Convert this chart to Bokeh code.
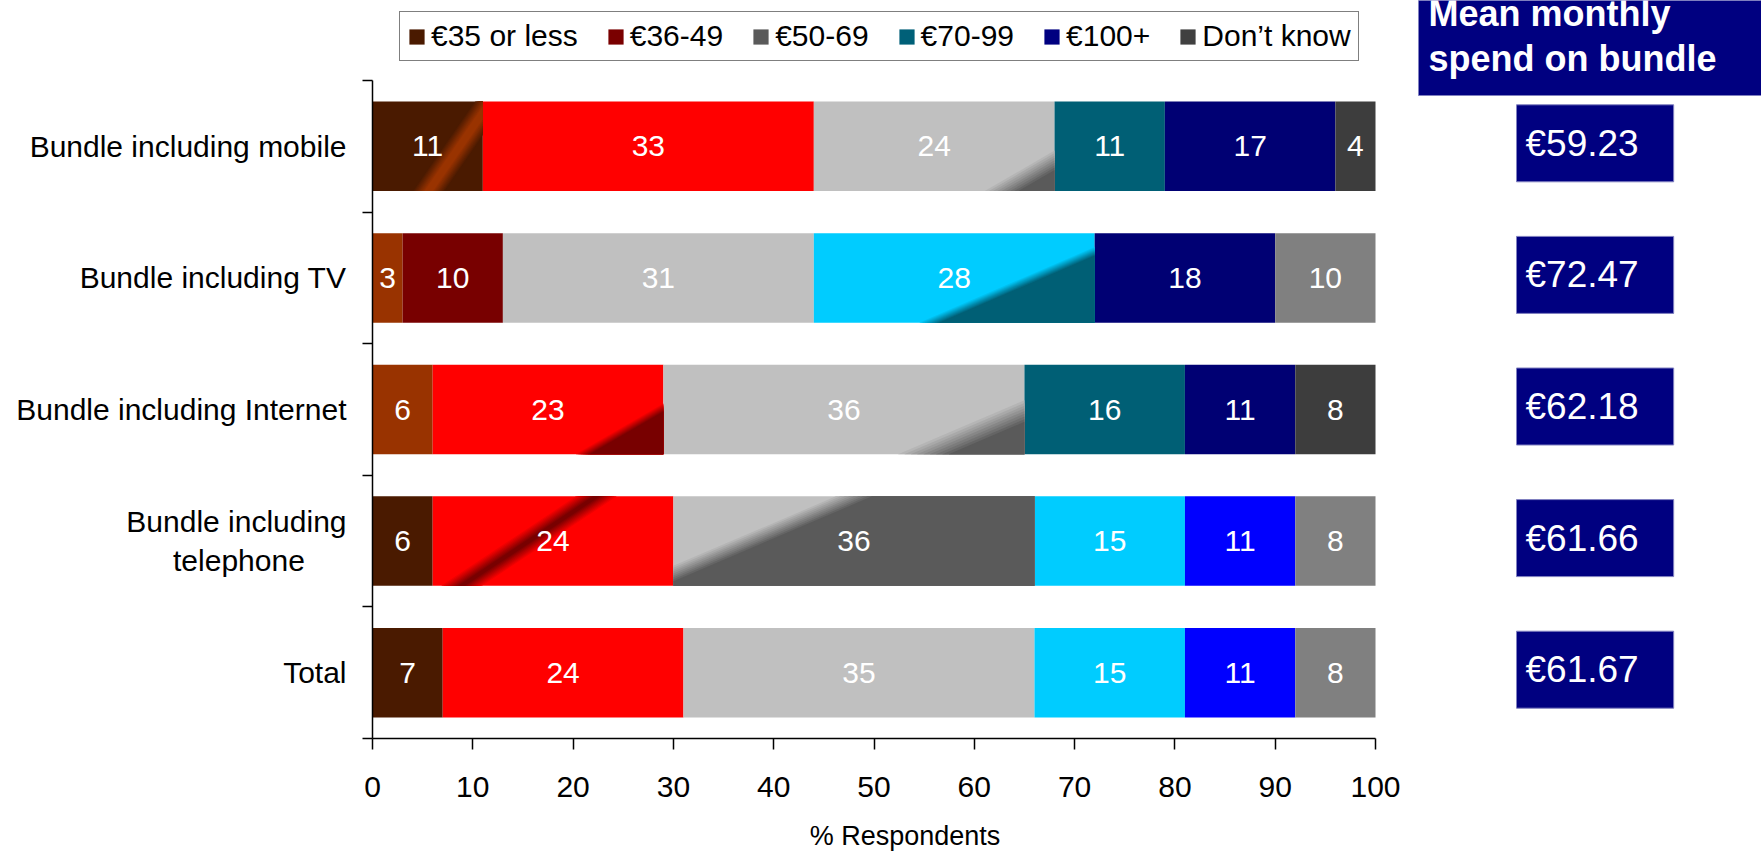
import numpy as np
from bokeh.plotting import figure
from bokeh.models import (ColumnDataSource, FixedTicker, Legend, LegendItem,
                          Label, Range1d)
from bokeh.core.properties import value
from bokeh.embed import file_html
from bokeh.resources import INLINE

# ---------------------------------------------------------------- data
categories = ["Bundle including mobile", "Bundle including TV",
              "Bundle including Internet",
              "Bundle including\ntelephone\u00a0\u00a0\u00a0\u00a0\u00a0",
              "Total"]
bands = ["€35 or less", "€36-49", "€50-69", "€70-99", "€100+", "Don’t know"]

mobile = [11, 33, 24, 11, 17, 4]
tv = [3, 10, 31, 28, 18, 10]
internet = [6, 23, 36, 16, 11, 8]
telephone = [6, 24, 36, 15, 11, 8]
total = [7, 24, 35, 15, 11, 8]
rows = [mobile, tv, internet, telephone, total]

mean_spend = [59.23, 72.47, 62.18, 61.66, 61.67]
x_ticks = [0, 10, 20, 30, 40, 50, 60, 70, 80, 90, 100]

# ---------------------------------------------------------------- styles
FONT = "Liberation Sans"
BROWN, RUST = "#4A1A00", "#993300"
RED, DARKRED = "#FF0000", "#780000"
SILVER, GRAPHITE = "#C0C0C0", "#5A5A5A"
TEAL, CYAN = "#005F75", "#00CCFF"
NAVY, BLUE = "#000073", "#0000FF"
GREY, CHARCOAL = "#808080", "#3D3D3D"
BOX_BLUE, BOX_EDGE = "#000080", "#8080C0"

legend_colors = ["#4A1A00", "#7A0000", "#5A5A5A", "#006078", "#000080", "#404040"]
row_colors = [
    [BROWN, RED, SILVER, TEAL, NAVY, CHARCOAL],
    [RUST, DARKRED, SILVER, CYAN, NAVY, GREY],
    [RUST, RED, SILVER, TEAL, NAVY, CHARCOAL],
    [BROWN, RED, SILVER, CYAN, BLUE, GREY],
    [BROWN, RED, SILVER, CYAN, BLUE, GREY],
]
# diagonal shading on some segments: (row, segment) -> shading spec
# ub / ut: where the shading line meets the bottom / top edge (fraction of width)
shading = {
    (0, 0): dict(kind="band", color=RUST, ub=0.51, ut=1.07, hw=0.04, soft=0.10),
    (0, 2): dict(kind="edge", color=GRAPHITE, ub=0.78, ut=1.42, soft=0.14),
    (1, 3): dict(kind="edge", color=TEAL, ub=0.41, ut=1.15, soft=0.07),
    (2, 1): dict(kind="edge", color=DARKRED, ub=0.65, ut=1.32, soft=0.06),
    (2, 2): dict(kind="edge", color=GRAPHITE, ub=0.72, ut=1.30, soft=0.14),
    (3, 1): dict(kind="band", color=DARKRED, ub=0.12, ut=0.68, hw=0.015, soft=0.07),
    (3, 2): dict(kind="edge", color=GRAPHITE, ub=-0.08, ut=0.50, soft=0.10),
}
BAR_H = 0.68
LAYERS = 9

# page geometry (pixels); the plotting area spans the whole canvas and the
# axes are pinned at the edges of the bar region
PAGE_W, PAGE_H = 1761, 852
AREA_LEFT, AREA_RIGHT = 372, 1375
AREA_TOP, AREA_BOTTOM = 80, 738


def mix(c1, c2, t):
    a = [int(c1[i:i + 2], 16) for i in (1, 3, 5)]
    b = [int(c2[i:i + 2], 16) for i in (1, 3, 5)]
    return "#%02x%02x%02x" % tuple(round(x + (y - x) * t) for x, y in zip(a, b))


def clip(poly, a, b, c):
    """Keep the part of poly where a*u + b*v + c >= 0."""
    out = []
    m = len(poly)
    for i in range(m):
        p0, p1 = poly[i], poly[(i + 1) % m]
        f0 = a * p0[0] + b * p0[1] + c
        f1 = a * p1[0] + b * p1[1] + c
        if f0 >= 0:
            out.append(p0)
        if (f0 >= 0) != (f1 >= 0):
            t = f0 / (f0 - f1)
            out.append((p0[0] + t * (p1[0] - p0[0]), p0[1] + t * (p1[1] - p0[1])))
    return out


def shade_polys(spec):
    """Polygons (unit-square coords, v downwards) and mix factors."""
    sq = [(0, 0), (1, 0), (1, 1), (0, 1)]
    ub, ut, s = spec["ub"], spec["ut"], spec["soft"]
    res = []
    for k in range(LAYERS):
        t = (k + 1) / LAYERS
        if spec["kind"] == "edge":
            o = -s / 2 + s * k / (LAYERS - 1)
            poly = clip(sq, 1, -(ub - ut), -(ut + o))
        else:
            d = spec["hw"] + s * (1 - k / (LAYERS - 1))
            poly = clip(sq, 1, -(ub - ut), -(ut - d))
            poly = clip(poly, -1, (ub - ut), ut + d)
        if len(poly) >= 3:
            res.append((poly, t))
    return res


# ---------------------------------------------------------------- figure
n = len(categories)
ypos = [n - 1 - i for i in range(n)]

px_x = (AREA_RIGHT - AREA_LEFT) / 100.0
px_y = (AREA_BOTTOM - AREA_TOP) / n
x_rng = Range1d(-AREA_LEFT / px_x, 100 + (PAGE_W - AREA_RIGHT) / px_x)
y_rng = Range1d(-0.5 - (PAGE_H - AREA_BOTTOM) / px_y, n - 0.5 + AREA_TOP / px_y)

p = figure(width=PAGE_W, height=PAGE_H, x_range=x_rng, y_range=y_rng,
           output_backend="svg", toolbar_location=None, min_border=0)
p.outline_line_color = None
p.grid.visible = False
p.background_fill_color = "white"
p.border_fill_color = "white"

bars = dict(y=[], left=[], right=[], color=[], xc=[], label=[])
patch_xs, patch_ys, patch_col = [], [], []
for i, vals in enumerate(rows):
    cum = np.concatenate([[0], np.cumsum(vals)])
    for j, v in enumerate(vals):
        x0, x1 = cum[j], cum[j + 1]
        base = row_colors[i][j]
        bars["y"].append(ypos[i])
        bars["left"].append(x0)
        bars["right"].append(x1)
        bars["color"].append(base)
        bars["xc"].append((x0 + x1) / 2)
        bars["label"].append(str(v))
        if (i, j) in shading:
            spec = shading[(i, j)]
            top = ypos[i] + BAR_H / 2
            for poly, t in shade_polys(spec):
                patch_xs.append([x0 + u * (x1 - x0) for u, _ in poly])
                patch_ys.append([top - w * BAR_H for _, w in poly])
                patch_col.append(mix(base, spec["color"], t))

src = ColumnDataSource(bars)
p.hbar(y="y", left="left", right="right", height=BAR_H, fill_color="color",
       line_color=None, source=src)
p.patches(xs=patch_xs, ys=patch_ys, fill_color=patch_col, line_color=None)
p.text(x="xc", y="y", text="label", source=src, text_color="white",
       text_font=value(FONT), text_font_size="30px", text_align="center",
       text_baseline="middle")

# ---------------------------------------------------------------- axes
xa = p.xaxis[0]
xa.fixed_location = -0.5
xa.bounds = (0, 100)
xa.ticker = FixedTicker(ticks=x_ticks)
xa.major_label_text_font = FONT
xa.major_label_text_font_size = "30px"
xa.major_label_text_color = "black"
xa.major_label_standoff = 27
xa.major_tick_in = 0
xa.major_tick_out = 11
xa.minor_tick_out = 0
xa.minor_tick_in = 0
xa.axis_line_color = "black"
xa.axis_line_width = 1.5
xa.major_tick_line_color = "black"
xa.major_tick_line_width = 1.5

ya = p.yaxis[0]
ya.fixed_location = 0
ya.bounds = (-0.5, n - 0.5)
ya.ticker = FixedTicker(ticks=ypos, minor_ticks=[y + 0.5 for y in range(-1, n)])
ya.major_label_overrides = {y: c for y, c in zip(ypos, categories)}
ya.major_label_text_font = FONT
ya.major_label_text_font_size = "30px"
ya.major_label_text_color = "black"
ya.major_label_standoff = 16
ya.major_tick_in = 0
ya.major_tick_out = 0
ya.minor_tick_in = 0
ya.minor_tick_out = 10
ya.minor_tick_line_color = "black"
ya.minor_tick_line_width = 1.5
ya.axis_line_color = "black"
ya.axis_line_width = 1.5

# x axis title
p.add_layout(Label(x=50, y=-0.5, x_units="data", y_units="data",
                   x_offset=31, y_offset=-97, text="% Respondents",
                   text_font=FONT, text_font_size="27px", text_color="black",
                   text_align="center", text_baseline="middle"))

# ---------------------------------------------------------------- legend
items = []
for name, col in zip(bands, legend_colors):
    r = p.hbar(y=[-100], left=[0], right=[1], height=0.5, fill_color=col,
               line_color=None)
    items.append(LegendItem(label=name, renderers=[r]))
legend = Legend(items=items, orientation="horizontal",
                location=(399, PAGE_H - 61),
                label_text_font=FONT, label_text_font_size="30px",
                label_text_color="black",
                glyph_width=19, glyph_height=19, label_standoff=5, spacing=28,
                padding=7, margin=0, border_line_color="black",
                border_line_width=1.5, background_fill_alpha=1)
p.add_layout(legend)

# ---------------------------------------------------------------- mean spend
for yv, m in zip(ypos, mean_spend):
    p.add_layout(Label(x=100, y=yv, x_units="data", y_units="data",
                       x_offset=141, y_offset=3, text=f"€{m:.2f}",
                       text_color="white", text_font=FONT, text_font_size="37px",
                       text_align="left", text_baseline="middle",
                       background_fill_color=BOX_BLUE,
                       border_line_color=BOX_EDGE, border_line_width=1,
                       padding=dict(left=9, right=35, top=18, bottom=18)))

p.add_layout(Label(x=1418, y=PAGE_H - 95, x_units="screen", y_units="screen",
                   text="Mean monthly\nspend on bundle", text_color="white",
                   text_font=FONT, text_font_size="36px", text_font_style="bold",
                   text_align="left", text_baseline="bottom",
                   text_line_height=1.11, background_fill_color=BOX_BLUE,
                   border_line_color=BOX_EDGE, border_line_width=1,
                   padding=dict(left=10, right=120, top=30, bottom=16)))

open("out.html", "w").write(file_html(p, INLINE))
